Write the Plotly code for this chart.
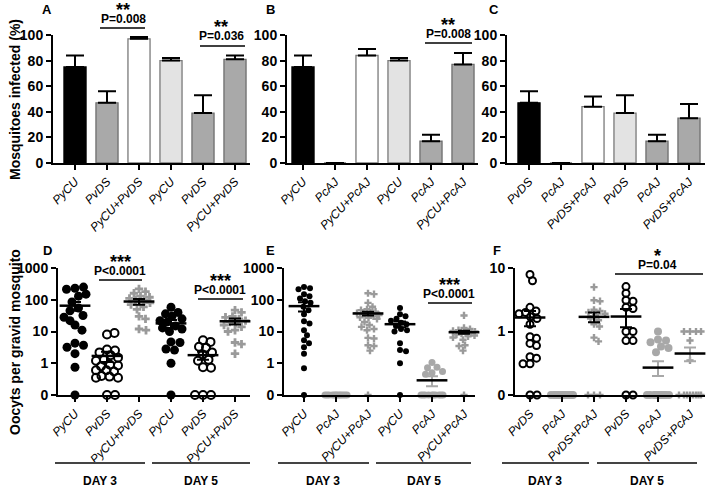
import numpy as np
import plotly.graph_objects as go

W, H = 708, 494

# ---------------- data: top panels (% mosquitoes infected) ----------------
A_cats = ["PyCU", "PvDS", "PyCU+PvDS", "PyCU", "PvDS", "PyCU+PvDS"]
A_vals = [75, 47, 97, 80, 39, 81]
A_err = [9, 9, 1.5, 2, 14, 3]

B_cats = ["PyCU", "PcAJ", "PyCU+PcAJ", "PyCU", "PcAJ", "PyCU+PcAJ"]
B_vals = [75, 0, 84, 80, 17, 77]
B_err = [9, None, 5, 2, 5, 9]

C_cats = ["PvDS", "PcAJ", "PvDS+PcAJ", "PvDS", "PcAJ", "PvDS+PcAJ"]
C_vals = [47, 0, 44, 39, 17, 35]
C_err = [9, None, 8, 14, 5, 11]

bar_fill = ["#000000", "#a9a9a9", "#ffffff", "#e3e3e3", "#a9a9a9", "#a9a9a9"]
bar_line = ["#000000", "#6e6e6e", "#7a7a7a", "#7a7a7a", "#6e6e6e", "#6e6e6e"]

# ---------------- data: bottom panels (oocysts per gravid mosquito) ----------------
D_cols = [
    [230, 250, 215, 130, 150, 85, 55, 45, 32, 28, 16, 22, 11, 4.3, 3.7, 3.2, 2, 0.75, 0],
    [8, 9, 2.7, 2.5, 2.2, 1.8, 1.5, 1.3, 1.2, 0.9, 0.85, 0.8, 0.6, 0.55, 0.6, 0.4, 0.38, 0.35, 0.35, 0, 0],
    [220, 180, 160, 130, 120, 110, 100, 95, 90, 80, 70, 60, 50, 30, 25, 12, 11],
    [58, 40, 36, 30, 25, 22, 20, 15, 13, 12, 10, 4.7, 4.5, 2.8, 2.6, 1.0, 0],
    [5.3, 4.7, 3.3, 3.1, 2.2, 1.9, 1.3, 1.2, 0.75, 0.72, 0, 0, 0],
    [47, 40, 30, 28, 25, 22, 20, 18, 16, 14, 11, 10, 4.5, 4.0, 2.0],
]
D_mean = [65, 1.7, 88, 18, 1.8, 21]
D_sem = [20, 0.6, 18, 5, 0.5, 4.5]

E_cols = [
    [250, 230, 215, 150, 130, 110, 90, 80, 60, 47, 35, 21, 18, 11, 7.6, 5.3, 4.3, 3.2, 2, 0.7, 0],
    [0] * 12,
    [160, 150, 80, 60, 50, 47, 42, 40, 38, 35, 33, 30, 28, 27, 25, 20, 16, 14, 12, 11, 6.3, 6, 3.7, 3.5, 2.5, 0],
    [55, 35, 30, 25, 22, 19, 17, 15, 12, 11, 10, 4.3, 2.6, 2.4, 1.0, 0],
    [1.05, 0.75, 0.72, 0.55, 0.5, 0.45] + [0] * 10,
    [32, 13, 12, 11, 10.5, 10, 9.5, 9, 8.5, 8, 7.5, 7, 6.5, 5.5, 3.7, 3.5, 2.5, 0],
]
E_mean = [63, None, 37, 17, 0.29, 9.5]
E_sem = [20, None, 5, 3.5, 0.1, 1]

F_cols = [
    [7.9, 6.3, 2.4, 2.1, 2.0, 1.9, 1.7, 1.6, 1.3, 0.83, 0.78, 0.65, 0.6, 0.4, 0.38, 0.31, 0.31, 0, 0],
    [0] * 12,
    [5, 3.1, 3.0, 2.2, 2.1, 2.0, 1.9, 1.8, 1.6, 1.5, 1.3, 1.2, 0.8, 0.7, 0, 0, 0],
    [5.1, 4.0, 3.1, 3.0, 2.4, 2.3, 1.0, 1.0, 0.72, 0.72, 0, 0],
    [1.0, 0.75, 0.72, 0.68, 0.58, 0.55, 0.47] + [0] * 10,
    [1.0, 1.0, 1.0, 1.0, 0.72, 0.35] + [0] * 8,
]
F_mean = [1.66, None, 1.7, 1.72, 0.27, 0.45]
F_sem = [0.45, None, 0.3, 0.55, 0.07, 0.11]

D_cats = A_cats
E_cats = B_cats
F_cats = C_cats

BLACK = "#000000"
GREY = "#9a9a9a"
GREYC = "#a8a8a8"

D_style = [("circle", 9, BLACK), ("circle-open", 8, BLACK), ("cross", 7, GREY),
           ("circle", 9, BLACK), ("circle-open", 8, BLACK), ("cross", 7, GREY)]
E_style = [("circle", 6, BLACK), ("circle", 7, GREYC), ("cross", 6, GREY),
           ("circle", 6, BLACK), ("circle", 7, GREYC), ("cross", 6, GREY)]
F_style = [("circle-open", 7, BLACK), ("circle", 8, GREYC), ("cross", 6, GREY),
           ("circle-open", 7, BLACK), ("circle", 8, GREYC), ("cross", 6, GREY)]
D_wc = [BLACK] * 6
E_wc = [BLACK, BLACK, BLACK, BLACK, GREYC, BLACK]
F_wc = [BLACK, BLACK, BLACK, BLACK, GREYC, GREYC]


def T(v):
    return float(np.log10(v)) if v > 0 else -1.0


def swarm(vals, d, ypx, maxw=11.0):
    ys = [T(v) * ypx for v in vals]
    placed, out = [], []
    cands = [0.0]
    for k in np.arange(0.5, maxw + 0.01, 0.5):
        cands += [float(k), float(-k)]
    for y in ys:
        best, bestd = 0.0, -1.0
        for c in cands:
            md = min([np.hypot(c - a, y - b) for a, b in placed], default=1e9)
            if md >= d:
                best = c
                break
            if md > bestd:
                bestd, best = md, c
        placed.append((best, y))
        out.append(best)
    return out


def px(p):
    return p / W


def py(p):
    return 1 - p / H


PXU = 32.0  # pixels per category

fig = go.Figure()

axis_common = dict(showline=True, linecolor="black", linewidth=2, ticks="outside",
                   ticklen=5, tickwidth=2, tickcolor="black", showgrid=False,
                   zeroline=False, fixedrange=True, automargin=False)

layout_axes = {}

# panel geometry: (axis x px, first center px, right end px)
top_geo = [(53, 75, 250), (287, 303, 478), (507, 529, 705)]
bot_geo = [(58, 75, 250), (284, 304, 475), (515, 530, 705)]

top_y = [py(163), py(35)]
bot_y = [py(395), py(268)]

FONT = "Liberation Sans, Arial"
TICKX = dict(family=FONT, size=12, style="italic", color="black")
TICKY = dict(family=FONT, size=14, weight="bold", color="black")
XANG = -46

tops = [(A_cats, A_vals, A_err), (B_cats, B_vals, B_err), (C_cats, C_vals, C_err)]
for i, ((ax0, c0, ax1), (cats, vals, errs)) in enumerate(zip(top_geo, tops)):
    n = i + 1
    xa = "x" if n == 1 else f"x{n}"
    ya = "y" if n == 1 else f"y{n}"
    r0 = -(c0 - ax0) / PXU
    r1 = (ax1 - c0) / PXU
    fig.add_trace(go.Bar(
        x=list(range(6)), y=vals, width=0.69,
        marker=dict(color=bar_fill, line=dict(color=bar_line, width=1.3)),
        error_y=dict(type="data", symmetric=False,
                     array=[e if e is not None else float("nan") for e in errs],
                     arrayminus=[0] * 6, color="black", thickness=2, width=9),
        xaxis=xa, yaxis=ya, showlegend=False, hoverinfo="skip"))
    layout_axes["xaxis" if n == 1 else f"xaxis{n}"] = dict(
        axis_common, domain=[px(ax0), px(ax1)], range=[r0, r1], anchor=ya,
        tickmode="array", tickvals=list(range(6)), ticktext=cats, tickangle=XANG,
        tickfont=TICKX)
    layout_axes["yaxis" if n == 1 else f"yaxis{n}"] = dict(
        axis_common, domain=top_y, range=[0, 100], anchor=xa,
        tickmode="array", tickvals=[0, 20, 40, 60, 80, 100], tickfont=TICKY)

bots = [
    (D_cats, D_cols, D_mean, D_sem, D_style, D_wc, [-1, 3], [-1, 0, 1, 2, 3], ["0", "1", "10", "100", "1000"]),
    (E_cats, E_cols, E_mean, E_sem, E_style, E_wc, [-1, 3], [-1, 0, 1, 2, 3], ["0", "1", "10", "100", "1000"]),
    (F_cats, F_cols, F_mean, F_sem, F_style, F_wc, [-1, 1], [-1, 0, 1], ["0", "1", "10"]),
]
for i, ((ax0, c0, ax1), (cats, cols, means, sems, styles, wcs, yr, tv, tt)) in enumerate(zip(bot_geo, bots)):
    n = i + 4
    xa, ya = f"x{n}", f"y{n}"
    r0 = -(c0 - ax0) / PXU
    r1 = (ax1 - c0) / PXU
    ypx = (395 - 268) / (yr[1] - yr[0])
    for k, vals in enumerate(cols):
        sym, size, col = styles[k]
        offs = swarm(vals, size * 0.95, ypx)
        mk = dict(symbol=sym, size=size, color=col)
        if sym == "circle-open":
            mk["line"] = dict(width=2, color=col)
        else:
            mk["line"] = dict(width=0)
        fig.add_trace(go.Scatter(
            x=[k + o / PXU for o in offs], y=[T(v) for v in vals], mode="markers",
            marker=mk, cliponaxis=False, xaxis=xa, yaxis=ya,
            showlegend=False, hoverinfo="skip"))
    for k in range(6):
        m, s = means[k], sems[k]
        if m is None:
            continue
        tm = T(m)
        fig.add_trace(go.Scatter(
            x=[k], y=[tm], mode="markers",
            marker=dict(symbol="line-ew", size=22, line=dict(width=2.5, color="black")),
            error_y=dict(type="data", symmetric=False, array=[T(m + s) - tm],
                         arrayminus=[tm - T(m - s)], color=wcs[k], thickness=2, width=6),
            cliponaxis=False, xaxis=xa, yaxis=ya, showlegend=False, hoverinfo="skip"))
    layout_axes[f"xaxis{n}"] = dict(
        axis_common, domain=[px(ax0), px(ax1)], range=[r0, r1], anchor=ya,
        tickmode="array", tickvals=list(range(6)), ticktext=cats, tickangle=XANG,
        tickfont=TICKX)
    layout_axes[f"yaxis{n}"] = dict(
        axis_common, domain=bot_y, range=yr, anchor=xa,
        tickmode="array", tickvals=tv, ticktext=tt, tickfont=TICKY)

ann = []
shapes = []


def text(x, y, t, size=12, bold=True):
    ann.append(dict(x=px(x), y=py(y), xref="paper", yref="paper", text=f"<b>{t}</b>" if bold else t,
                    showarrow=False, xanchor="center", yanchor="middle",
                    font=dict(family=FONT, size=size, color="black")))


def hline(x0, x1, y, color="black", width=1.5):
    shapes.append(dict(type="line", xref="paper", yref="paper", x0=px(x0), x1=px(x1),
                       y0=py(y), y1=py(y), line=dict(color=color, width=width)))


# panel letters
for t, x, y in [("A", 47, 9), ("B", 270, 9), ("C", 494, 9), ("D", 47, 250), ("E", 270, 250), ("F", 497, 250)]:
    text(x, y, t, size=13)

# significance marks
sig = [
    ("**", "P=0.008", 123, 6, 19, 100, 145, 28),
    ("**", "P=0.036", 221, 23, 36, 200, 245, 46),
    ("**", "P=0.008", 448, 21, 34, 425, 472, 43),
    ("***", "P<0.0001", 120, 258, 271, 99, 142, 280),
    ("***", "P<0.0001", 220, 277, 290, 198, 243, 299),
    ("***", "P<0.0001", 449, 281, 294, 428, 472, 303),
    ("*", "P=0.04", 657, 252, 265, 615, 703, 274),
]
for st, pt, x, ys, yp, l0, l1, yl in sig:
    text(x, ys + 4, st, size=18)
    text(x, yp, pt, size=12)
    hline(l0, l1, yl)

# day groupings
days = [(55, 145, 100, "DAY 3"), (152, 250, 201, "DAY 5"),
        (278, 369, 323, "DAY 3"), (376, 471, 424, "DAY 5"),
        (502, 589, 545, "DAY 3"), (597, 697, 647, "DAY 5")]
for x0, x1, xc, t in days:
    hline(x0, x1, 463, color="#444444", width=2)
    text(xc, 481, t, size=12)

# axis titles
for t, y in [("Mosquitoes infected (%)", 100), ("Oocyts per gravid mosquito", 342)]:
    ann.append(dict(x=px(15), y=py(y), xref="paper", yref="paper", text=f"<b>{t}</b>",
                    showarrow=False, textangle=-90, xanchor="center", yanchor="middle",
                    font=dict(family=FONT, size=14, color="black")))

fig.update_layout(
    width=W, height=H, margin=dict(l=0, r=0, t=0, b=0, autoexpand=False),
    paper_bgcolor="white", plot_bgcolor="white",
    annotations=ann, shapes=shapes, showlegend=False, bargap=0,
    font=dict(family=FONT, color="black"),
    **layout_axes)

fig.write_html("out.html", config={"displayModeBar": False, "staticPlot": True},
               post_script="document.body.style.margin='0';document.body.style.padding='0';"
                           "document.body.style.overflow='hidden';")
